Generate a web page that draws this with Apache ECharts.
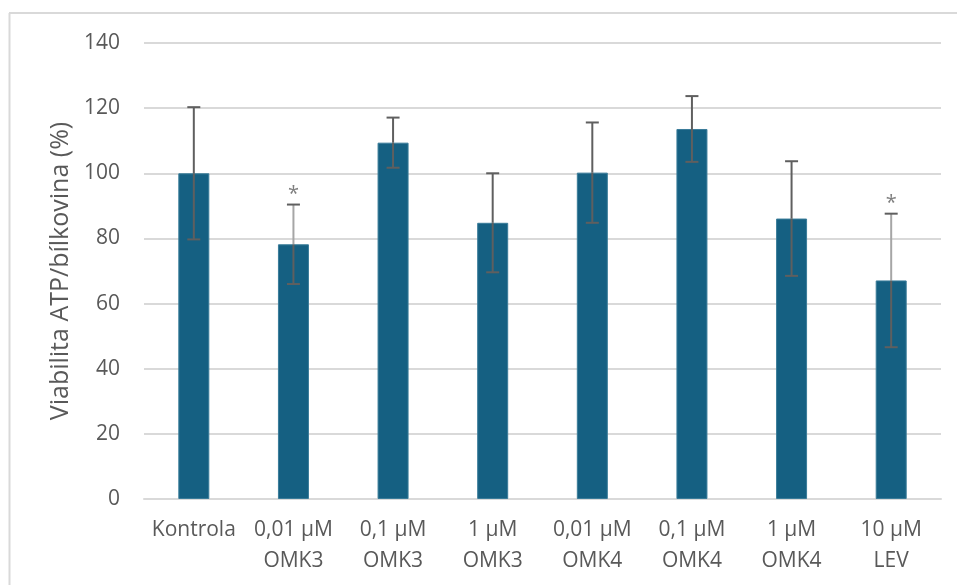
<!DOCTYPE html>
<html>
<head>
<meta charset="utf-8">
<script src="https://cdn.jsdelivr.net/npm/echarts@6/dist/echarts.min.js"></script>
<style>
  html, body { margin: 0; padding: 0; background: #ffffff; }
  #chart { width: 957px; height: 585px; }
</style>
</head>
<body>
<div id="chart"></div>
<script>
// Group labels on the category axis
const categories = [
  'Kontrola',
  '0,01 µM\nOMK3',
  '0,1 µM\nOMK3',
  '1 µM\nOMK3',
  '0,01 µM\nOMK4',
  '0,1 µM\nOMK4',
  '1 µM\nOMK4',
  '10 µM\nLEV'
];
// Mean viability (%) per group
const means = [100.0, 78.2, 109.4, 84.8, 100.2, 113.6, 86.1, 67.1];
// Standard deviation (%) per group
const errors = [20.3, 12.2, 7.7, 15.2, 15.4, 10.1, 17.6, 20.5];
// Significance markers drawn above the error bars
const significance = ['', '*', '', '', '', '', '', '*'];
// Value axis range and step
const yMin = 0;
const yMax = 140;
const yStep = 20;

const TEXT = '#595959';
const GRID = '#d9d9d9';
const BAR = '#156082';
const WHISKER = '#5f5f5f';
const WHISKER_LIGHT = '#a6a6a6';
const FONT = 'Open Sans';

const chart = echarts.init(document.getElementById('chart'), null, { renderer: 'canvas' });

const errorData = means.map((m, i) => [i, m, errors[i], significance[i]]);

function renderErrorBar(params, api) {
  const i = api.value(0);
  const m = api.value(1);
  const e = api.value(2);
  const sig = significance[i];
  const top = api.coord([i, m + e]);
  const mid = api.coord([i, m]);
  const bot = api.coord([i, m - e]);
  const half = 6.5;
  const lw = 2;
  const children = [
    { type: 'line', shape: { x1: bot[0], y1: bot[1], x2: mid[0], y2: mid[1] },
      style: { stroke: WHISKER, lineWidth: lw } },
    { type: 'line', shape: { x1: mid[0], y1: mid[1], x2: top[0], y2: top[1] },
      style: { stroke: sig ? WHISKER_LIGHT : WHISKER, lineWidth: lw } },
    { type: 'line', shape: { x1: top[0] - half, y1: top[1], x2: top[0] + half, y2: top[1] },
      style: { stroke: WHISKER, lineWidth: lw } },
    { type: 'line', shape: { x1: bot[0] - half, y1: bot[1], x2: bot[0] + half, y2: bot[1] },
      style: { stroke: WHISKER, lineWidth: lw } }
  ];
  if (sig) {
    children.push({
      type: 'text',
      style: {
        text: sig, x: top[0], y: top[1] - 10,
        textAlign: 'center', textVerticalAlign: 'middle',
        fontFamily: FONT, fontSize: 20, fill: '#7f7f7f'
      }
    });
  }
  return { type: 'group', children: children };
}

chart.setOption({
  animation: false,
  backgroundColor: '#ffffff',
  grid: { left: 144, right: 16, top: 43, bottom: 86, containLabel: false },
  xAxis: {
    type: 'category',
    data: categories,
    axisLine: { show: true, lineStyle: { color: GRID, width: 2 } },
    axisTick: { show: false },
    axisLabel: {
      color: TEXT, fontFamily: FONT, fontSize: 21,
      lineHeight: 31, margin: 16, interval: 0
    }
  },
  yAxis: {
    type: 'value',
    min: yMin, max: yMax, interval: yStep,
    name: 'Viabilita ATP/bílkovina (%)',
    nameLocation: 'middle',
    nameGap: 70,
    nameTextStyle: { color: TEXT, fontFamily: FONT, fontSize: 25 },
    axisLine: { show: false },
    axisTick: { show: false },
    axisLabel: { color: TEXT, fontFamily: FONT, fontSize: 21, margin: 24 },
    splitLine: { show: true, lineStyle: { color: GRID, width: 2 } }
  },
  series: [
    {
      type: 'bar',
      data: means,
      barWidth: 31,
      itemStyle: { color: BAR, borderColor: '#3a7c99', borderWidth: 1 },
      z: 2
    },
    {
      type: 'custom',
      data: errorData,
      renderItem: renderErrorBar,
      encode: { x: 0, y: 1 },
      z: 3
    }
  ],
  graphic: [
    { type: 'line', shape: { x1: 9.5, y1: 13, x2: 9.5, y2: 585 },
      style: { stroke: GRID, lineWidth: 2 }, silent: true },
    { type: 'line', shape: { x1: 9, y1: 13, x2: 957, y2: 13 },
      style: { stroke: GRID, lineWidth: 2 }, silent: true }
  ]
});
</script>
</body>
</html>
